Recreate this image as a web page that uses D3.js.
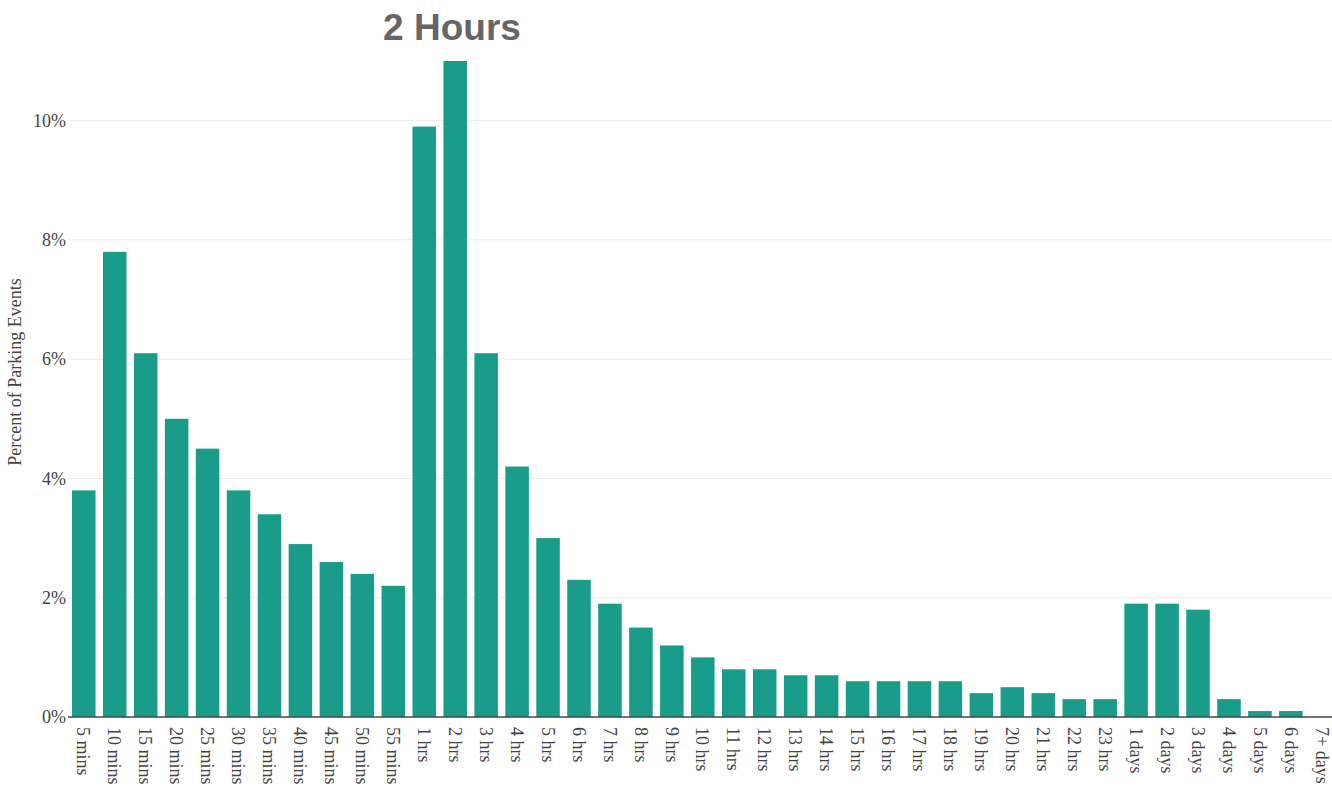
<!DOCTYPE html>
<html><head><meta charset="utf-8">
<script src="https://cdn.jsdelivr.net/npm/d3@7"></script>
<style>body{margin:0;background:#fff}svg{display:block}</style>
</head><body>
<svg id="c" width="1332" height="786"></svg>
<script>
const categories = ["5 mins","10 mins","15 mins","20 mins","25 mins","30 mins","35 mins","40 mins","45 mins","50 mins","55 mins",
"1 hrs","2 hrs","3 hrs","4 hrs","5 hrs","6 hrs","7 hrs","8 hrs","9 hrs","10 hrs","11 hrs","12 hrs","13 hrs","14 hrs","15 hrs","16 hrs","17 hrs","18 hrs","19 hrs","20 hrs","21 hrs","22 hrs","23 hrs",
"1 days","2 days","3 days","4 days","5 days","6 days","7+ days"];
const values = [3.8,7.8,6.1,5.0,4.5,3.8,3.4,2.9,2.6,2.4,2.2,
9.9,11.0,6.1,4.2,3.0,2.3,1.9,1.5,1.2,1.0,0.8,0.8,0.7,0.7,0.6,0.6,0.6,0.6,0.4,0.5,0.4,0.3,0.3,
1.9,1.9,1.8,0.3,0.1,0.1,0];
const yTicks = [0,2,4,6,8,10];
const titleText = "2 Hours";
const yTitle = "Percent of Parking Events";

const svg = d3.select("#c");
const L = 68.3, R = 1337.3, T = 61, B = 717;
const x = d3.scaleBand().domain(categories).range([L, R]).paddingInner(0.24).paddingOuter(0.12);
const y = d3.scaleLinear().domain([0, 11]).range([B, T]);

// grid
svg.append("g").selectAll("line").data(yTicks.filter(d=>d>0)).join("line")
  .attr("x1", 68).attr("x2", 1332).attr("y1", d=>y(d)).attr("y2", d=>y(d))
  .attr("stroke", "#ebebeb").attr("stroke-width", 1);

// bars
svg.append("g").selectAll("rect").data(categories).join("rect")
  .attr("x", d=>x(d)).attr("width", x.bandwidth())
  .attr("y", (d,i)=>y(values[i])).attr("height", (d,i)=>B - y(values[i]))
  .attr("fill", "#1a9c8b");

// y axis
const ya = svg.append("g").attr("transform", `translate(68,0)`)
  .call(d3.axisLeft(y).tickValues(yTicks).tickFormat(d=>d+"%").tickSize(0).tickPadding(2));
ya.select(".domain").remove();
ya.selectAll("text").attr("font-family","'Liberation Serif', serif").attr("font-size", 18).attr("fill","#444");

// x axis
const xa = svg.append("g").attr("transform", `translate(0,${B})`)
  .call(d3.axisBottom(x).tickSize(0));
xa.select(".domain").attr("stroke","#444").attr("stroke-width",1.5).attr("d", `M68,0H1332`);
xa.selectAll("text").attr("font-family","'Liberation Serif', serif").attr("font-size", 18).attr("fill","#444")
  .attr("transform","rotate(90)").attr("text-anchor","start").attr("x", 10).attr("y", 0).attr("dy","0.35em");

// titles
svg.append("text").attr("x", 452).attr("y", 40).attr("text-anchor","middle")
  .attr("font-family","'Liberation Sans', Arial, sans-serif").attr("font-weight","bold").attr("font-size", 37)
  .attr("fill","#666").text(titleText);
svg.append("text").attr("transform","translate(21,372) rotate(-90)").attr("text-anchor","middle")
  .attr("font-family","'Liberation Serif', serif").attr("font-size", 18).attr("fill","#444").text(yTitle);
</script>
</body></html>
